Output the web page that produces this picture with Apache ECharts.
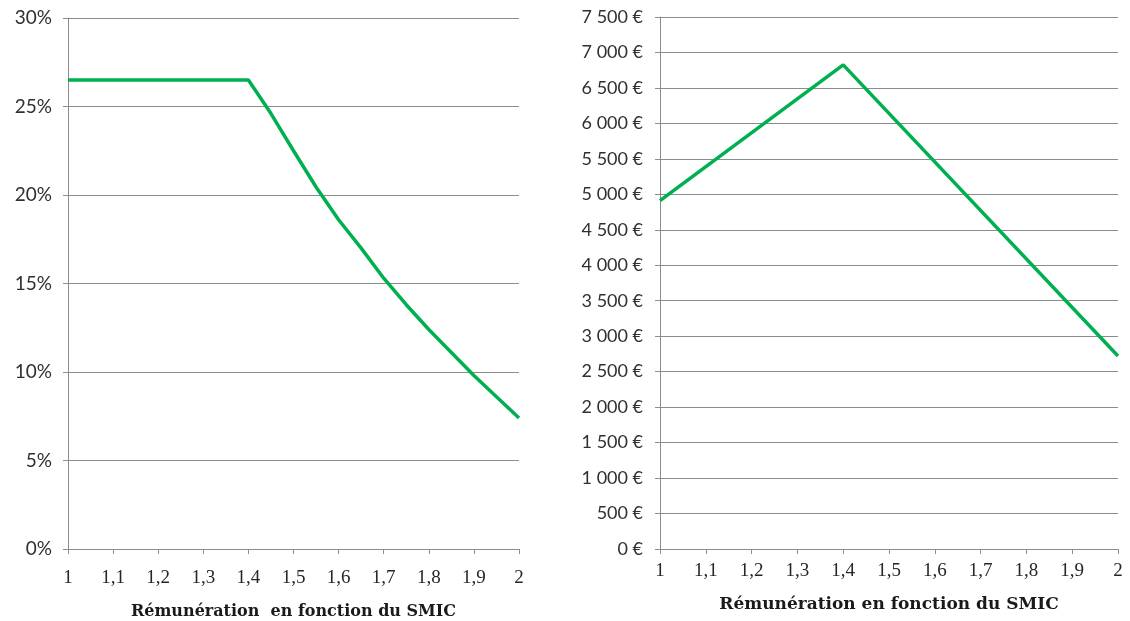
<!DOCTYPE html>
<html>
<head>
<meta charset="utf-8">
<script src="https://cdn.jsdelivr.net/npm/echarts@6/dist/echarts.min.js"></script>
<style>
html,body{margin:0;padding:0;background:#fff;}
#c{width:1130px;height:621px;}
</style>
</head>
<body>
<div id="c"></div>
<script>
// Left chart: rate (%) vs salary as multiple of SMIC
const leftX = [1, 1.1, 1.2, 1.3, 1.4, 1.45, 1.5, 1.55, 1.6, 1.65, 1.7, 1.75, 1.8, 1.85, 1.9, 1.95, 2];
const leftY = [26.5, 26.5, 26.5, 26.5, 26.5, 24.6, 22.5, 20.45, 18.6, 17.0, 15.3, 13.8, 12.4, 11.1, 9.8, 8.6, 7.4];
// Right chart: amount (€) vs salary as multiple of SMIC
const rightX = [1, 1.4, 2];
const rightY = [4910, 6825, 2720];
const xTitleLeft = 'Rémunération  en fonction du SMIC';
const xTitleRight = 'Rémunération en fonction du SMIC';

const green = '#00B050';
const gridColor = '#8c8c8c';
const tickFont = 'Lato, "Open Sans", sans-serif';
const serifFont = '"Liberation Serif", "DejaVu Serif", serif';
const titleFont = '"DejaVu Serif", "Liberation Serif", serif';

function fmtX(v){
  const r = Math.round(v*10)/10;
  return Number.isInteger(r) ? String(r) : r.toFixed(1).replace('.', ',');
}
function fmtEuro(v){
  const s = String(Math.round(v));
  return s.replace(/\B(?=(\d{3})+(?!\d))/g, ' ') + ' €';
}
function xAxis(idx, name, labelMargin, nameGap, titleSize){
  return {
    type:'value', gridIndex:idx, min:1, max:2, interval:0.1,
    name:name, nameLocation:'middle', nameGap:nameGap,
    nameTextStyle:{fontFamily:titleFont, fontWeight:'bold', fontSize:titleSize, color:'#1a1a1a'},
    axisLine:{show:true, lineStyle:{color:gridColor, width:1}},
    axisTick:{show:true, length:5, lineStyle:{color:gridColor}},
    axisLabel:{formatter:fmtX, fontFamily:serifFont, fontSize:19, color:'#262626', margin:labelMargin},
    splitLine:{show:false}
  };
}
function yAxis(idx, max, interval, fmt, size, margin){
  return {
    type:'value', gridIndex:idx, min:0, max:max, interval:interval,
    axisLine:{show:true, lineStyle:{color:gridColor, width:1}},
    axisTick:{show:true, length:5, lineStyle:{color:gridColor}},
    axisLabel:{formatter:fmt, fontFamily:tickFont, fontSize:size, color:'#303030', margin:margin},
    splitLine:{show:true, lineStyle:{color:gridColor, width:1}}
  };
}

const chart = echarts.init(document.getElementById('c'), null, {renderer:'canvas'});
chart.setOption({
  backgroundColor:'#fff',
  animation:false,
  grid:[
    {left:68, top:18, right:611, bottom:72, outerBoundsMode:'none', containLabel:false},
    {left:660, top:17, right:12, bottom:72, outerBoundsMode:'none', containLabel:false}
  ],
  xAxis:[xAxis(0, xTitleLeft, 20, 55, 16), xAxis(1, xTitleRight, 13, 47, 17)],
  yAxis:[
    yAxis(0, 30, 5, v => v + '%', 19, 16),
    yAxis(1, 7500, 500, fmtEuro, 18, 17)
  ],
  series:[
    {type:'line', xAxisIndex:0, yAxisIndex:0, showSymbol:false,
     data:leftX.map((x,i)=>[x, leftY[i]]),
     lineStyle:{color:green, width:3.5}, itemStyle:{color:green}},
    {type:'line', xAxisIndex:1, yAxisIndex:1, showSymbol:false,
     data:rightX.map((x,i)=>[x, rightY[i]]),
     lineStyle:{color:green, width:3.5}, itemStyle:{color:green}}
  ]
});
</script>
</body>
</html>
